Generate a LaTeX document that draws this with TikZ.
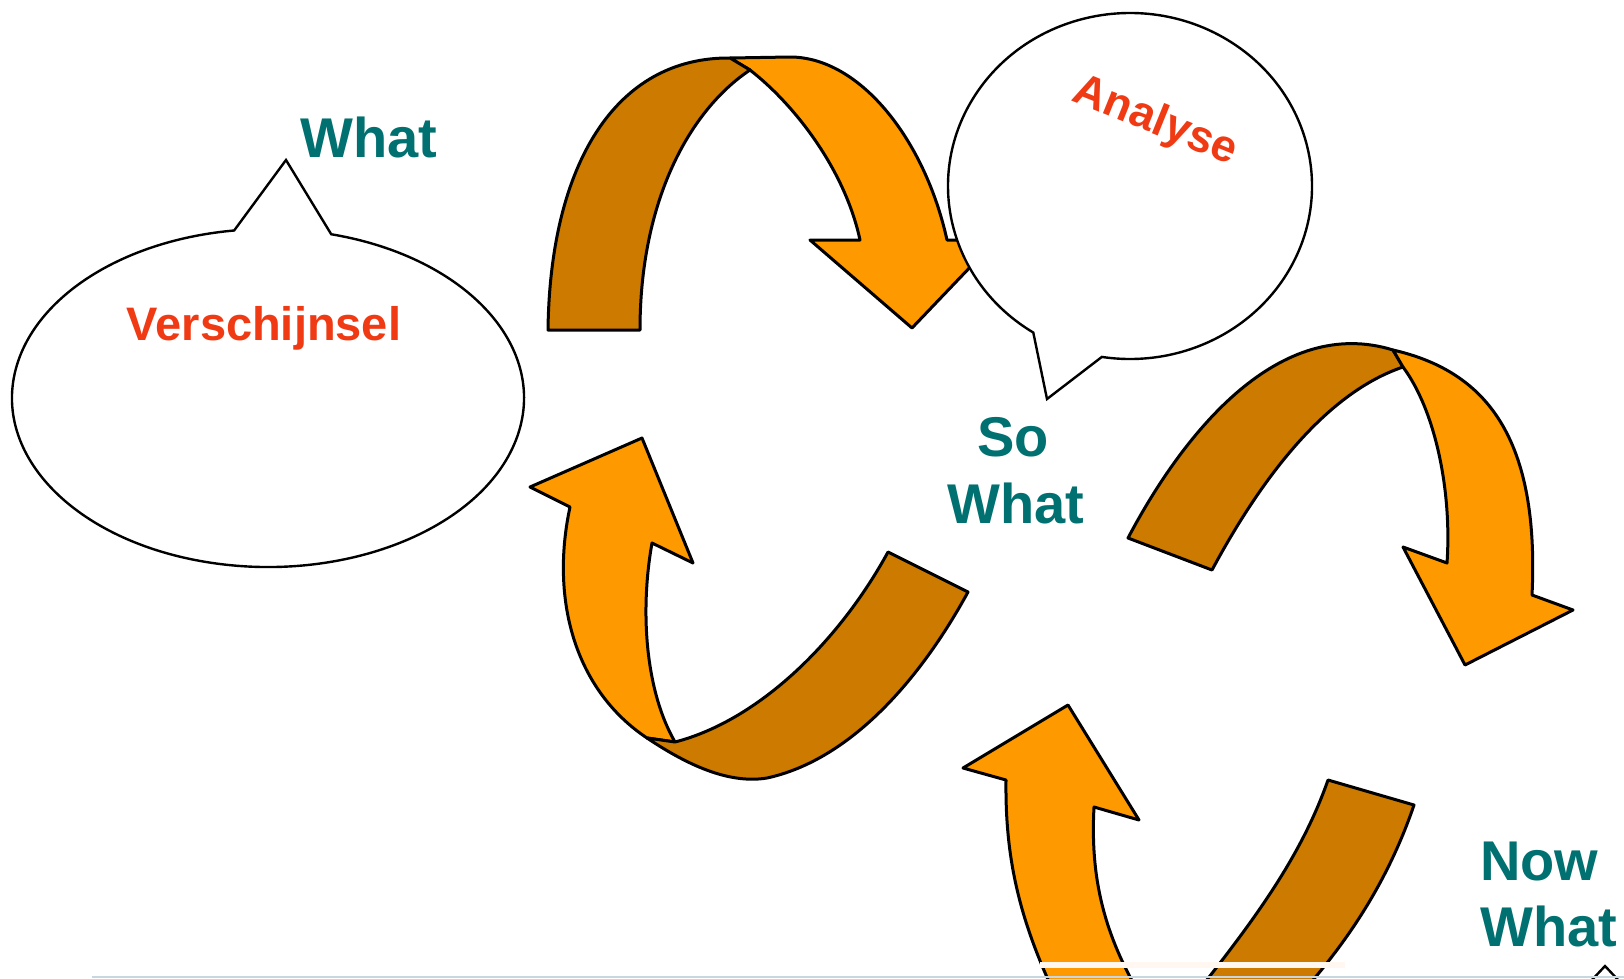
\documentclass[tikz,border=0pt]{standalone}
\usepackage{fontspec}
\setmainfont{Liberation Sans}
\usetikzlibrary{calc}
\definecolor{bandlight}{RGB}{255,153,0}
\definecolor{banddark}{RGB}{204,122,0}
\definecolor{wordteal}{RGB}{0,112,112}
\definecolor{wordred}{RGB}{240,58,20}
\definecolor{rulegrey}{RGB}{200,214,224}
\tikzset{
  band/.style={draw=black, line width=3pt, line join=round},
  bubble/.style={draw=black, line width=2.4pt, fill=white},
  stage/.style={text=wordteal, font=\bfseries\fontsize{56}{60}\selectfont, inner sep=0pt},
  topic/.style={text=wordred, font=\bfseries\fontsize{47}{50}\selectfont, inner sep=0pt}
}

\begin{document}
\begin{tikzpicture}[x=1pt, y=-1pt]
\useasboundingbox (0,0) rectangle (1624,978);
\clip (0,0) rectangle (1624,978);
\fill[white] (0,0) rectangle (1624,978);

% top arch
\path[band, fill=bandlight] (730,58) -- (790,57) .. controls (860,57) and (925,140) .. (947,240)
  -- (996,240) -- (912,328) -- (810,240) -- (860,240) .. controls (845,170) and (795,105) .. (750,70) -- cycle;
\path[band, fill=banddark] (548,330) .. controls (550,165) and (615,57) .. (730,58) -- (750,70)
  .. controls (690,110) and (640,200) .. (640,330) -- cycle;

% lower left loop
\path[band, fill=bandlight] (647,738) .. controls (575,690) and (550,600) .. (570,507) -- (530,487)
  -- (642,438) -- (693,563) -- (652,543) .. controls (640,610) and (645,690) .. (675,742) -- cycle;
\path[band, fill=banddark] (888,552) -- (968,592) .. controls (920,680) and (850,760) .. (767,778)
  .. controls (725,785) and (680,760) .. (647,738) -- (675,742) .. controls (760,720) and (840,640) .. (888,552) -- cycle;

% right arch
\path[band, fill=banddark] (1128,538) .. controls (1185,430) and (1280,315) .. (1393,350) -- (1403,367)
  .. controls (1320,395) and (1255,490) .. (1212,570) -- cycle;
\path[band, fill=bandlight] (1393,350) .. controls (1480,370) and (1540,430) .. (1532,595) -- (1573,610)
  -- (1465,665) -- (1403,547) -- (1447,563) .. controls (1452,490) and (1435,410) .. (1403,367) -- cycle;

% lower right loop, cut by the frame
\path[band, fill=bandlight] (1055,995) .. controls (1020,920) and (1005,860) .. (1006,780) -- (963,768)
  -- (1068,705) -- (1139,820) -- (1094,807) .. controls (1090,880) and (1105,935) .. (1140,995) -- cycle;
\path[band, fill=banddark] (1328,780) -- (1414,805) .. controls (1385,890) and (1340,950) .. (1300,995)
  -- (1195,995) .. controls (1250,925) and (1300,860) .. (1328,780) -- cycle;
\fill[white!94!orange] (1040,962) rectangle (1345,968);

% speech bubbles
\draw[bubble] ($(268,398)+(-75.7:256 and 169)$) arc[start angle=-75.7, end angle=262.4, x radius=256, y radius=169]
  -- (286,160) -- cycle;
\draw[bubble] ($(1130,186)+(122.1:182 and 173)$) arc[start angle=122.1, end angle=458.9, x radius=182, y radius=173]
  -- (1047,399) -- cycle;
\draw[line width=2.4pt] (1590,982) -- (1605,966) -- (1620,982);
\draw[rulegrey, line width=1.5pt] (92,977) -- (1624,977);

\node[stage, anchor=base west] (what) at (300,157) {What};
\node[stage, anchor=base] (so) at (1013,456) {So};
\node[stage, anchor=base] (sowhat) at (1016,523) {What};
\node[stage, anchor=base west] (now) at (1480,880) {Now};
\node[stage, anchor=base west] (nowwhat) at (1480,946) {What};
\node[topic, anchor=base] (phenomenon) at (264,340) {Verschijnsel};
\node[topic, font=\bfseries\fontsize{45}{50}\selectfont, rotate=-22] (analyse) at (1155,122) {Analyse};
\end{tikzpicture}
\end{document}
